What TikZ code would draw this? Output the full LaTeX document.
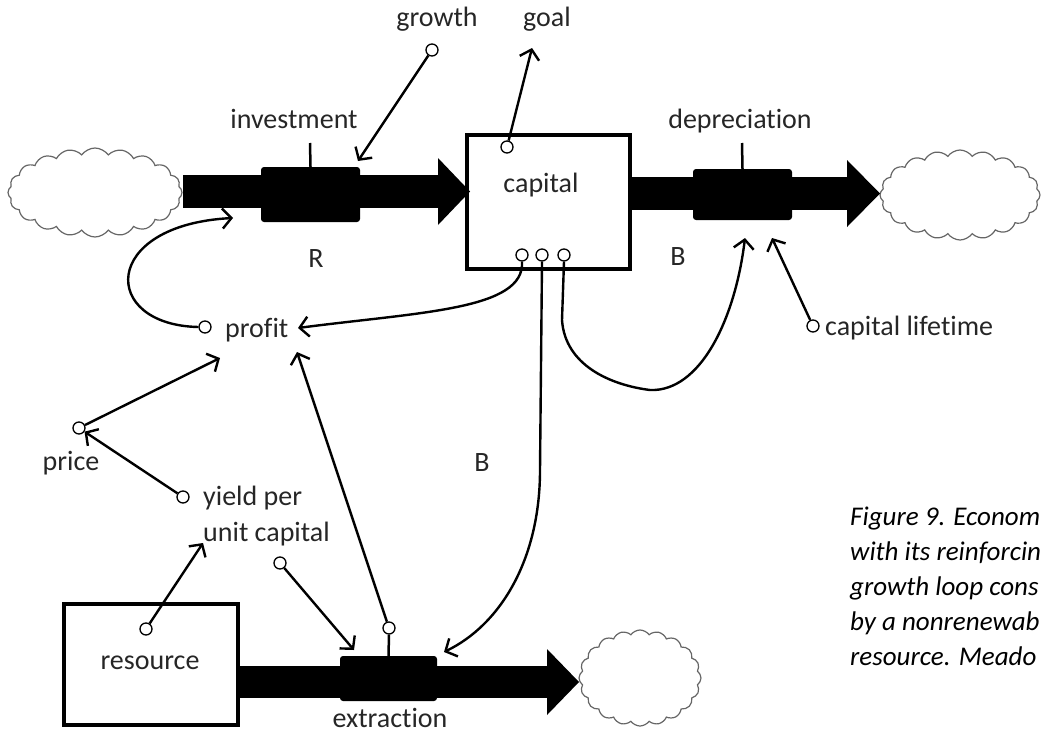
\documentclass[tikz,border=0pt]{standalone}
\usepackage{fontspec}
\setmainfont[Ligatures=NoCommon]{Carlito}
\usetikzlibrary{arrows.meta,shapes.symbols}
\begin{document}
\begin{tikzpicture}[x=1pt,y=-1pt,
 lbl/.style={font=\fontsize{28}{35}\selectfont, text=black!85, inner sep=0pt, anchor=base},
 captxt/.style={font=\fontsize{27}{35}\selectfont\itshape, text=black, inner sep=0pt, anchor=base west},
 aux/.style={circle, draw, line width=1.3pt, fill=white, minimum size=12pt, inner sep=0pt},
 link/.style={line width=2.4pt, -{Straight Barb[length=9pt,width=20pt]}},
 stock/.style={draw, line width=4pt, inner sep=0pt},
 valve/.style={fill=black, rounded corners=3pt, inner sep=0pt},
 sink/.style={cloud, cloud puffs=20, cloud puff arc=110, cloud ignores aspect, draw=black!60, line width=1.2pt, inner sep=0pt},
 stem/.style={line width=2.5pt},
 pipe/.style={fill=black}
]
\path[use as bounding box] (0,0) rectangle (1044,744);

% clouds
\node[sink, minimum width=174pt, minimum height=89pt] (cloudL) at (95,192.5) {};
\node[sink, minimum width=160pt, minimum height=90pt] (cloudR) at (960,195) {};
\node[sink, minimum width=122pt, minimum height=96pt] (cloudB) at (640,678) {};

% stocks
\node[stock, minimum width=163pt, minimum height=134pt] (capital) at (548.5,202) {};
\node[lbl] (capitalT) at (541,192) {capital};
\node[stock, minimum width=174pt, minimum height=121pt] (resource) at (151,664.5) {};
\node[lbl] (resourceT) at (150,669) {resource};

% pipes
\fill[pipe] (183,175) rectangle (440,208);
\fill[pipe] (438,158) -- (470,191.5) -- (438,225) -- cycle;
\fill[pipe] (630,177) rectangle (849,210);
\fill[pipe] (847,160) -- (880,193.5) -- (847,227) -- cycle;
\fill[pipe] (238,666) rectangle (549,698);
\fill[pipe] (547,649) -- (579,682) -- (547,715) -- cycle;

% valves
\node[valve, minimum width=99pt, minimum height=55pt] (inv) at (310.5,194.5) {};
\node[valve, minimum width=99pt, minimum height=51pt] (dep) at (742.5,194.5) {};
\node[valve, minimum width=97pt, minimum height=45pt] (ext) at (388.5,678.5) {};
\coordinate (invTop) at (310,143);
\coordinate (depTop) at (742,143);
\draw[stem] (inv.north) -- (invTop);
\draw[stem] (dep.north) -- (depTop);

% labels
\node[lbl] (investment) at (294,128) {investment};
\node[lbl] (depreciation) at (740,128) {depreciation};
\node[lbl] (growth) at (437,27) {growth};
\node[lbl] (goal) at (547,27) {goal};
\node[lbl] (R) at (316,267) {R};
\node[lbl] (B1) at (678,265) {B};
\node[lbl] (B2) at (482,471) {B};
\node[lbl, anchor=base west] (profitT) at (225,337) {profit};
\node[lbl] (priceT) at (71,470) {price};
\node[lbl, anchor=base west] (yieldT) at (203,505) {yield per};
\node[lbl, anchor=base west] (yieldT2) at (203,541) {unit capital};
\node[lbl, anchor=base west] (lifeT) at (825,335) {capital lifetime};
\node[lbl] (extraction) at (390,727) {extraction};

% auxiliaries (small circles)
\node[aux] (growthC) at (432,50) {};
\node[aux] (goalC) at (507,147) {};
\node[aux] (capC1) at (522,255) {};
\node[aux] (capC2) at (542,255) {};
\node[aux] (capC3) at (564,255) {};
\node[aux] (profitC) at (205,327) {};
\node[aux] (priceC) at (79,428) {};
\node[aux] (yieldC) at (183,497) {};
\node[aux] (yieldC2) at (280,563) {};
\node[aux] (resC) at (146,629) {};
\node[aux] (extC) at (389,628) {};
\node[aux] (lifeC) at (813,326) {};
\draw[stem] (ext.north) -- (extC.south);

% link targets
\coordinate (invIn) at (358,161);
\coordinate (invIn2) at (233,218);
\coordinate (goalIn) at (532,48);
\coordinate (profitIn) at (298,328);
\coordinate (profitIn2) at (220,358);
\coordinate (profitIn3) at (297,352);
\coordinate (depIn) at (745,238);
\coordinate (depIn2) at (772,238);
\coordinate (yieldIn) at (203,543);
\coordinate (extIn) at (354,650);
\coordinate (extIn2) at (444,652);

% links
\draw[link] (growthC) -- (invIn);
\draw[link] (goalC) -- (goalIn);
\draw[link] (profitC.west) .. controls (100,325) and (100,225) .. (invIn2);
\draw[link] (capC1.south) .. controls (525,310) and (420,312) .. (profitIn);
\draw[link] (capC2.south) -- (540,470) .. controls (540,560) and (500,625) .. (extIn2);
\draw[link] (capC3.south) -- (562,320) .. controls (565,365) and (610,385) .. (650,390) .. controls (700,392) and (735,320) .. (depIn);
\draw[link] (lifeC) -- (depIn2);
\draw[link] (priceC) -- (profitIn2);
\draw[link] (yieldC) -- (priceC);
\draw[link] (resC) -- (yieldIn);
\draw[link] (yieldC2) -- (extIn);
\draw[link] (extC) -- (profitIn3);

% caption (the figure shows it cut at the right edge)
\node[captxt] (cap1) at (850,525) {Figure 9. Econom};
\node[captxt] (cap2) at (850,560) {with its reinforcin};
\node[captxt] (cap3) at (850,595) {growth loop cons};
\node[captxt] (cap4) at (850,630) {by a nonrenewab};
\node[captxt] (cap5) at (850,665) {resource. Meado};
\end{tikzpicture}
\end{document}
